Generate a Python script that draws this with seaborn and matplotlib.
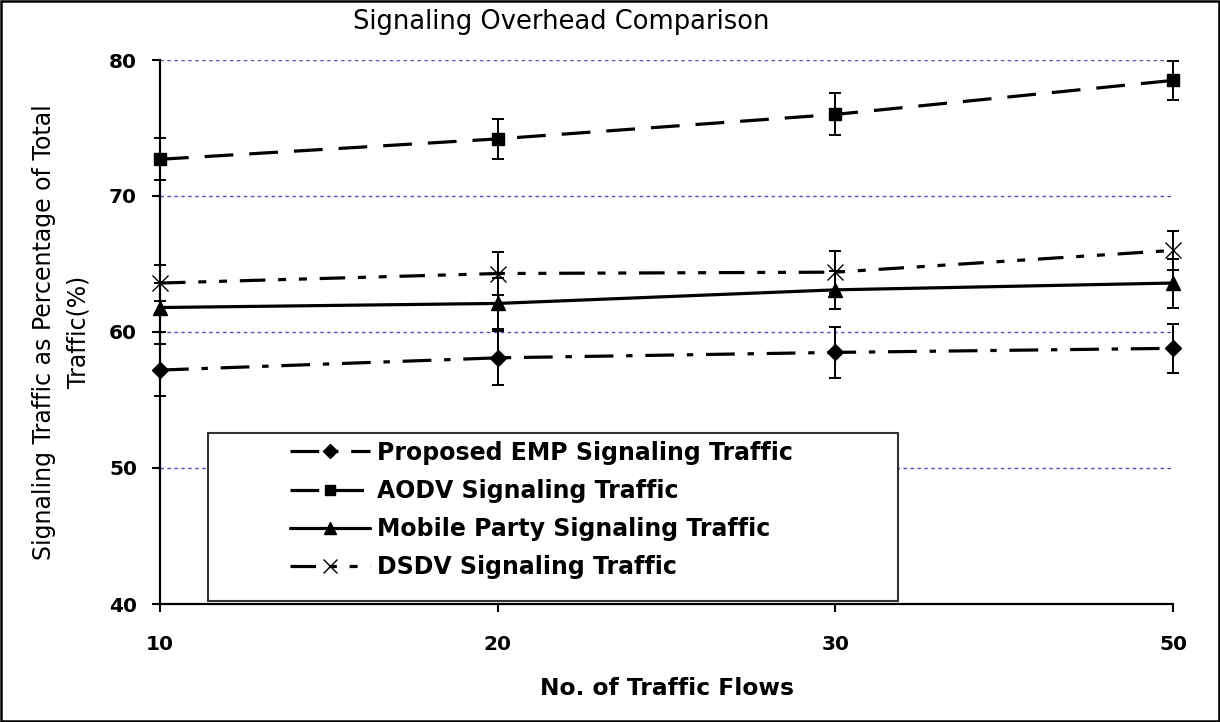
import numpy as np
import matplotlib
matplotlib.use("Agg")
import matplotlib.pyplot as plt
import seaborn as sns
from matplotlib.lines import Line2D
from matplotlib.patches import Rectangle

# Number of traffic flows (equally spaced categories)
flows = ["10", "20", "30", "50"]

# Signaling traffic as percentage of total traffic, with error half-widths
emp = [57.2, 58.1, 58.5, 58.8]
emp_err = [1.9, 2.0, 1.9, 1.8]
aodv = [72.7, 74.2, 76.0, 78.5]
aodv_err = [1.55, 1.45, 1.55, 1.45]
mobile = [61.8, 62.1, 63.1, 63.6]
mobile_err = [1.8, 1.9, 1.4, 1.8]
dsdv = [63.6, 64.3, 64.4, 66.0]
dsdv_err = [1.3, 1.55, 1.55, 1.45]

names = ["Proposed EMP Signaling Traffic", "AODV Signaling Traffic",
         "Mobile Party Signaling Traffic", "DSDV Signaling Traffic"]
values = [emp, aodv, mobile, dsdv]
errors = [emp_err, aodv_err, mobile_err, dsdv_err]

markers = ["D", "s", "^", "x"]
dash_patterns = [(9, 4, 2, 4), (9, 5), None, (8, 4, 2.5, 4, 2.5, 4)]
msizes = [8.2, 9.0, 9.5, 11.5]

sns.set_theme(style="white")
plt.rcParams["font.family"] = ["DejaVu Sans"]
for key in ["text.color", "axes.labelcolor", "xtick.color", "ytick.color"]:
    plt.rcParams[key] = "black"

pos = np.arange(len(flows))

fig = plt.figure(figsize=(12.2, 7.22), dpi=100)
ax = fig.add_axes([160 / 1220, 1 - 604 / 722, 1013 / 1220, 544 / 722])

for y, e in zip(values, errors):
    ax.errorbar(pos, y, yerr=e, fmt="none", ecolor="black", elinewidth=1.4,
                capsize=4.4, capthick=1.4, clip_on=False, zorder=3)

handles = []
for y, m, d, ms in zip(values, markers, dash_patterns, msizes):
    sns.lineplot(x=pos, y=y, color="black", marker=m, markersize=ms,
                 markeredgewidth=1.0, markeredgecolor="black",
                 linewidth=2.3, ax=ax, zorder=4)
    line = ax.get_lines()[-1]
    line.set_clip_on(False)
    if d is not None:
        line.set_dashes(d)
    handles.append(Line2D([], [], color="black", linewidth=2.3,
                          linestyle="-" if d is None else (0, d),
                          marker=m, markersize=ms * 0.85, markeredgewidth=1.0))

ax.set_xlim(0, 3)
ax.set_ylim(40, 80)
ax.set_xticks(pos)
ax.set_xticklabels(flows)
ax.set_yticks([40, 50, 60, 70, 80])
ax.tick_params(axis="x", direction="out", length=6, width=1.5, pad=16,
               labelsize=14.5, bottom=True)
ax.tick_params(axis="y", direction="out", length=6, width=1.5, pad=10.5,
               labelsize=14.5, left=True)
for lab in ax.get_xticklabels() + ax.get_yticklabels():
    lab.set_fontweight("bold")
ax.yaxis.grid(True, linestyle=(0, (2.5, 2.5)), color="#5050c0", linewidth=1.0)
ax.xaxis.grid(False)
for side in ["top", "right"]:
    ax.spines[side].set_visible(False)
for side in ["left", "bottom"]:
    ax.spines[side].set_color("black")
    ax.spines[side].set_linewidth(1.6)
ax.set_xlabel("No. of Traffic Flows", fontsize=16.8, fontweight="bold")
ax.xaxis.set_label_coords(0.5, -0.135)
ax.set_ylabel("Signaling Traffic as Percentage of Total\nTraffic(%)",
              fontsize=17, linespacing=1.55)
ax.yaxis.set_label_coords(-0.069, 0.5)
ax.set_facecolor("white")

fig.text(561 / 1220, 1 - 22 / 722, "Signaling Overhead Comparison",
         ha="center", va="center", fontsize=18.5)

# Legend: white framed box with the entries set to the right inside it
box = Rectangle((48 / 1013, 3 / 544), 690 / 1013, 168 / 544,
                transform=ax.transAxes, facecolor="white",
                edgecolor="#333333", linewidth=1.5, zorder=5, clip_on=False)
ax.add_patch(box)
leg = ax.legend(handles, names, loc="center left",
                bbox_to_anchor=((290 - 160) / 1013, (604 - 510) / 544),
                prop={"size": 17, "weight": "bold"}, frameon=False,
                borderpad=0, handlelength=3.4, handletextpad=0.3,
                labelspacing=0.6, borderaxespad=0)
leg.set_zorder(6)

fig.patches.append(Rectangle((0.001, 0.001), 0.998, 0.997, transform=fig.transFigure,
                             fill=False, edgecolor="black", linewidth=1.8))

fig.savefig("out.png", dpi=100, facecolor="white")
